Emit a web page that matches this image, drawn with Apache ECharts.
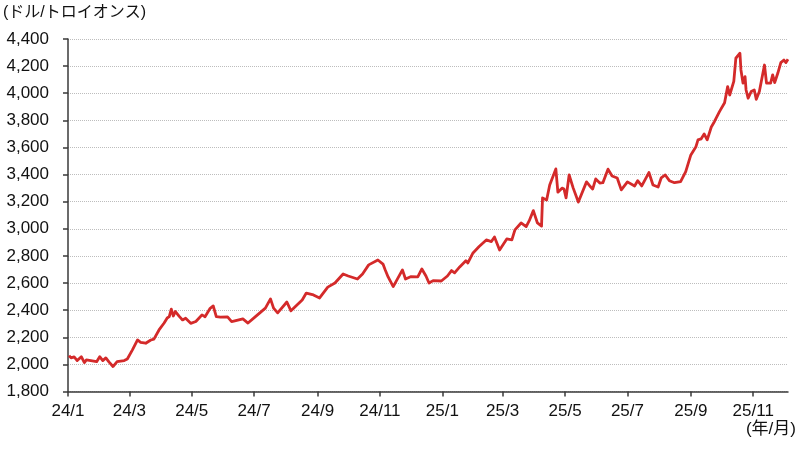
<!DOCTYPE html>
<html>
<head>
<meta charset="utf-8">
<script src="https://cdn.jsdelivr.net/npm/echarts@6/dist/echarts.min.js"></script>
<style>html,body{margin:0;padding:0;background:#fff}#c{width:800px;height:450px}</style>
</head>
<body>
<div id="c"></div>
<script>
var priceDates = [
'2024-01-02','2024-01-04','2024-01-07','2024-01-10','2024-01-14','2024-01-17','2024-01-19','2024-01-29',
'2024-02-01','2024-02-04','2024-02-07','2024-02-10','2024-02-14','2024-02-18','2024-02-25','2024-02-28',
'2024-03-04','2024-03-09','2024-03-12','2024-03-17','2024-03-22','2024-03-25','2024-03-30',
'2024-04-04','2024-04-07','2024-04-09','2024-04-11','2024-04-13','2024-04-15','2024-04-19','2024-04-22','2024-04-25','2024-04-30',
'2024-05-05','2024-05-08','2024-05-11','2024-05-14','2024-05-19','2024-05-22','2024-05-25','2024-05-29',
'2024-06-05','2024-06-09','2024-06-20','2024-06-25',
'2024-07-02','2024-07-12','2024-07-17','2024-07-20','2024-07-24',
'2024-08-02','2024-08-06','2024-08-17','2024-08-21','2024-08-28',
'2024-09-03','2024-09-11','2024-09-18','2024-09-26',
'2024-10-01','2024-10-10','2024-10-15','2024-10-21','2024-10-30',
'2024-11-04','2024-11-06','2024-11-09','2024-11-14','2024-11-23','2024-11-26',
'2024-12-01','2024-12-08','2024-12-12','2024-12-16','2024-12-19','2024-12-23','2024-12-31',
'2025-01-06','2025-01-10','2025-01-13','2025-01-18','2025-01-24','2025-01-26','2025-01-31',
'2025-02-06','2025-02-13','2025-02-18','2025-02-21','2025-02-26',
'2025-03-05','2025-03-10','2025-03-13','2025-03-19','2025-03-24','2025-03-27','2025-03-31',
'2025-04-04','2025-04-08','2025-04-09','2025-04-13','2025-04-16','2025-04-22','2025-04-24','2025-04-28','2025-04-30',
'2025-05-02','2025-05-05','2025-05-09','2025-05-14','2025-05-22','2025-05-25','2025-05-28','2025-05-31',
'2025-06-04','2025-06-07','2025-06-12','2025-06-16','2025-06-21','2025-06-25','2025-06-26',
'2025-07-01','2025-07-08','2025-07-11','2025-07-15','2025-07-22','2025-07-26','2025-07-31',
'2025-08-03','2025-08-07','2025-08-11','2025-08-16','2025-08-22','2025-08-27',
'2025-09-01','2025-09-06','2025-09-08','2025-09-11','2025-09-14','2025-09-17','2025-09-21','2025-09-24','2025-09-29',
'2025-10-04','2025-10-07','2025-10-09','2025-10-13','2025-10-15','2025-10-19','2025-10-20','2025-10-22','2025-10-24','2025-10-25','2025-10-27','2025-10-30',
'2025-11-02','2025-11-04','2025-11-07','2025-11-12','2025-11-14','2025-11-18','2025-11-20','2025-11-22','2025-11-25','2025-11-28',
'2025-12-01','2025-12-03','2025-12-05'
];
var priceValues = [
2065,2048,2055,2028,2057,2013,2033,2020,
2057,2028,2048,2018,1984,2020,2028,2040,
2107,2180,2163,2156,2180,2186,2254,
2305,2342,2352,2407,2357,2390,2352,2328,2340,2303,
2316,2340,2365,2352,2414,2431,2352,2348,
2350,2315,2335,2305,
2350,2415,2483,2415,2380,
2460,2395,2475,2526,2512,
2490,2570,2600,2667,
2652,2630,2667,2734,2770,
2740,2700,2645,2574,2697,2630,
2647,2645,2704,2652,2600,2618,2615,
2652,2692,2675,2719,2765,2748,2822,
2869,2918,2906,2940,2844,
2925,2918,2992,3043,3016,3060,3134,
3043,3020,3228,3213,3323,3442,3270,3300,3293,
3228,3397,3300,3197,3346,3318,3293,3368,
3338,3340,3440,3390,3375,3287,3282,
3346,3316,3355,3316,3415,3323,3308,
3375,3397,3355,3340,3348,3422,
3545,3606,3656,3663,3700,3656,3751,3790,3864,
3930,4049,3987,4088,4258,4295,4172,4075,4122,4024,3963,4012,
4024,3955,4012,4208,4074,4074,4135,4078,4147,4226,
4245,4226,4250
];
var tickDates = ['2024-01-01','2024-03-01','2024-05-01','2024-07-01','2024-09-01','2024-11-01',
                 '2025-01-01','2025-03-01','2025-05-01','2025-07-01','2025-09-01','2025-11-01'];
var tickLabels = ['24/1','24/3','24/5','24/7','24/9','24/11','25/1','25/3','25/5','25/7','25/9','25/11'];
var yMin = 1800, yMax = 4400, yStep = 200;
var axisStart = '2024-01-01', axisEnd = '2025-12-05';

function fmt(d){var m=d.getUTCMonth()+1, dd=d.getUTCDate();return d.getUTCFullYear()+'-'+(m<10?'0':'')+m+'-'+(dd<10?'0':'')+dd;}
var categories = [];
for (var t = new Date(axisStart+'T00:00:00Z'); fmt(t) <= axisEnd; t = new Date(t.getTime()+86400000)) categories.push(fmt(t));
var tickSet = {}; tickDates.forEach(function(d,i){tickSet[d]=tickLabels[i];});

var FONT = '"Liberation Sans", Arial, "Noto Sans CJK JP", sans-serif';
var chart = echarts.init(document.getElementById('c'), null, {renderer:'canvas'});
chart.setOption({
  animation:false,
  backgroundColor:'#fff',
  grid:{left:68, right:12, top:39, bottom:58.5, containLabel:false},
  xAxis:{
    type:'category', data:categories, boundaryGap:false,
    axisLine:{lineStyle:{color:'#3a3a3a', width:1.5}},
    axisTick:{length:5, inside:false, lineStyle:{color:'#3a3a3a', width:1.5},
      interval:function(i,v){return tickSet[v]!==undefined;}},
    axisLabel:{interval:function(i,v){return tickSet[v]!==undefined;},
      formatter:function(v){return tickSet[v]||'';},
      color:'#111', fontSize:17, fontFamily:FONT, margin:11},
    splitLine:{show:false}
  },
  yAxis:{
    type:'value', min:yMin, max:yMax, interval:yStep,
    axisLine:{show:true, lineStyle:{color:'#3a3a3a', width:1.5}},
    axisTick:{show:true, length:5, lineStyle:{color:'#3a3a3a', width:1.5}},
    axisLabel:{color:'#111', fontSize:17, fontFamily:FONT, margin:19,
      formatter:function(v){return v.toLocaleString('en-US');}},
    splitLine:{show:true, lineStyle:{color:'#bdbdbd', type:'dotted', width:1}}
  },
  graphic:[
    {type:'text', left:3, top:5, style:{text:'(ドル/トロイオンス)', fill:'#111', font:'16px '+FONT}},
    {type:'text', right:4, top:421, style:{text:'(年/月)', fill:'#111', font:'17px '+FONT}}
  ],
  series:[{
    type:'line', data:priceDates.map(function(d,i){return [d, priceValues[i]];}),
    showSymbol:false, smooth:false,
    lineStyle:{color:'#d42a2a', width:2.8, join:'round'}
  }]
});
</script>
</body>
</html>
